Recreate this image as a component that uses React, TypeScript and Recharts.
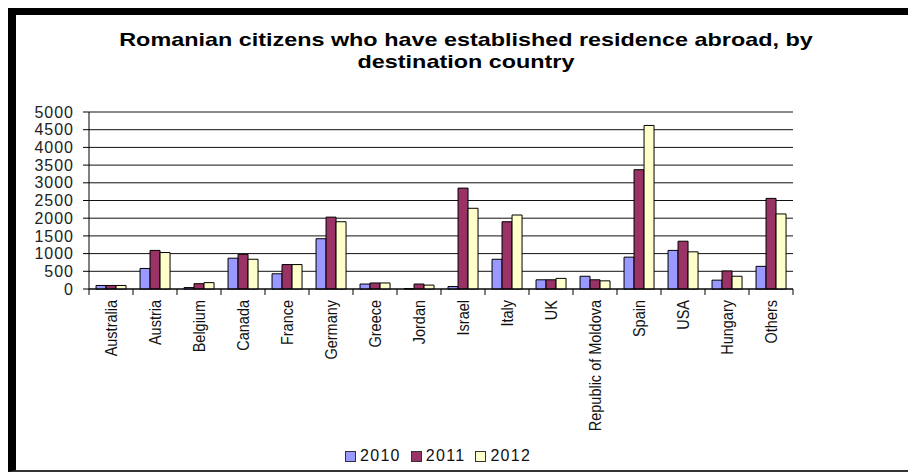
import React from 'react';
import { BarChart, Bar, XAxis, YAxis, CartesianGrid, Legend, ReferenceLine } from 'recharts';

const countries = [
  'Australia', 'Austria', 'Belgium', 'Canada', 'France', 'Germany', 'Greece', 'Jordan',
  'Israel', 'Italy', 'UK', 'Republic of Moldova', 'Spain', 'USA', 'Hungary', 'Others',
];
const values2010 = [100, 580, 40, 870, 430, 1420, 140, 5, 70, 840, 260, 360, 900, 1090, 250, 640];
const values2011 = [100, 1090, 150, 980, 690, 2030, 170, 140, 2850, 1900, 260, 260, 3370, 1350, 510, 2560];
const values2012 = [100, 1030, 180, 840, 690, 1900, 170, 110, 2280, 2090, 300, 230, 4620, 1050, 360, 2120];
const yTicks = [0, 500, 1000, 1500, 2000, 2500, 3000, 3500, 4000, 4500, 5000];
const seriesNames = ['2010', '2011', '2012'];
const seriesColors = ['#9999FF', '#993366', '#FFFFCC'];
const title = ['Romanian citizens who have established residence abroad, by', 'destination country'];

const data = countries.map((name, i) => ({
  name,
  '2010': values2010[i],
  '2011': values2011[i],
  '2012': values2012[i],
}));

const FONT = '"Liberation Sans", Arial, sans-serif';
const X_TICK_SIZE = 6;
const X_TICK_MARGIN = 5;

const CategoryTick = (props: any) => {
  const { x, y, payload, index } = props;
  const half = payload && typeof payload.offset === 'number' ? payload.offset : 22;
  const top = y - X_TICK_SIZE - X_TICK_MARGIN;
  const isLast = index === countries.length - 1;
  return (
    <g>
      <line x1={x - half} x2={x - half} y1={top} y2={top + X_TICK_SIZE} stroke="#000" />
      {isLast && <line x1={x + half} x2={x + half} y1={top} y2={top + X_TICK_SIZE} stroke="#000" />}
      <text
        x={0}
        y={0}
        transform={`translate(${x} ${y}) scale(1.2 1) rotate(-90)`}
        textAnchor="end"
        dominantBaseline="central"
        fontSize={14.5}
        fontFamily={FONT}
        fill="#111"
      >
        {payload.value}
      </text>
    </g>
  );
};

const renderLegend = (props: any) => {
  const { payload } = props;
  return (
    <div style={{ display: 'flex', alignItems: 'center', fontFamily: FONT }}>
      {(payload || []).map((entry: any, i: number) => (
        <div key={i} style={{ display: 'flex', alignItems: 'center', marginRight: 10 }}>
          <span
            style={{
              display: 'inline-block',
              width: 9,
              height: 9,
              background: entry.color,
              border: '1px solid #333',
              marginRight: 4,
            }}
          />
          <span style={{ fontSize: 16, lineHeight: '18px', letterSpacing: 1.3, color: '#111' }}>{entry.value}</span>
        </div>
      ))}
    </div>
  );
};

export default function App() {
  return (
    <div style={{ position: 'absolute', left: 0, top: 0, width: 908, height: 472, background: '#fff', overflow: 'hidden' }}>
      <div
        style={{
          position: 'absolute',
          left: 8,
          top: 8,
          width: 900,
          height: 464,
          boxSizing: 'border-box',
          borderTop: '7px solid #000',
          borderLeft: '8px solid #000',
          borderBottom: '2px solid #333',
        }}
      />
      <div
        style={{
          position: 'absolute',
          left: 166,
          top: 29,
          width: 600,
          textAlign: 'center',
          fontFamily: FONT,
          fontWeight: 'bold',
          fontSize: 19,
          lineHeight: '22px',
          color: '#000',
          transform: 'scaleX(1.23)',
          transformOrigin: 'center',
        }}
      >
        <div>{title[0]}</div>
        <div>{title[1]}</div>
      </div>
      <div style={{ position: 'absolute', left: 0, top: 0 }}>
        <BarChart
          width={908}
          height={472}
          data={data}
          margin={{ top: 112, right: 115, left: 0, bottom: 0 }}
          barCategoryGap="16%"
          barGap={0}
        >
          <CartesianGrid vertical={false} stroke="#111" />
          <ReferenceLine y={5000} stroke="#8a8a8a" />
          <XAxis
            dataKey="name"
            interval={0}
            height={183}
            tickLine={false}
            tickSize={X_TICK_SIZE}
            tickMargin={X_TICK_MARGIN}
            axisLine={{ stroke: '#000' }}
            tick={<CategoryTick />}
          />
          <YAxis
            width={89}
            domain={[0, 5000]}
            ticks={yTicks}
            interval={0}
            tickSize={6}
            tickMargin={9}
            axisLine={{ stroke: '#000' }}
            tickLine={{ stroke: '#000' }}
            tick={{ fill: '#222', fontSize: 16, fontFamily: FONT, letterSpacing: 1 }}
          />
          <YAxis
            yAxisId="right"
            orientation="right"
            width={0}
            domain={[0, 5000]}
            tick={false}
            tickLine={false}
            axisLine={{ stroke: '#8a8a8a' }}
          />
          <Legend
            layout="horizontal"
            verticalAlign="middle"
            align="center"
            wrapperStyle={{ top: 447, left: 345, width: 220 }}
            content={renderLegend}
          />
          {seriesNames.map((s, i) => (
            <Bar key={s} dataKey={s} fill={seriesColors[i]} stroke="#000" strokeWidth={1} isAnimationActive={false} />
          ))}
        </BarChart>
      </div>
    </div>
  );
}
